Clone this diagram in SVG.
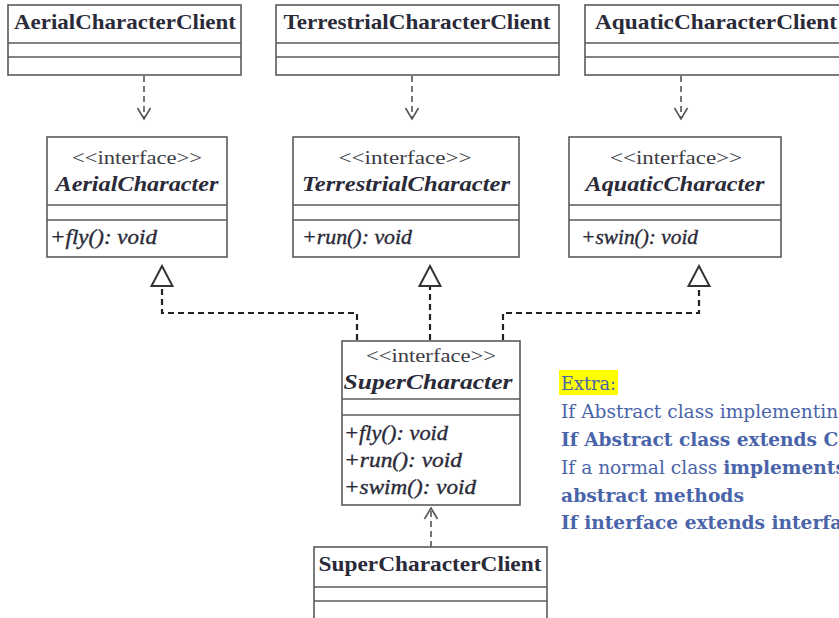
<svg xmlns="http://www.w3.org/2000/svg" width="839" height="618" viewBox="0 0 839 618">
<style>
.box{fill:#fff;stroke:#5a5a5a;stroke-width:1.6}
.div{stroke:#5a5a5a;stroke-width:1.6}
.t{font-family:"Liberation Serif",serif;fill:#2a2a38}
.cn{font-size:21px;font-weight:bold;text-anchor:middle}
.st{font-size:19px;text-anchor:middle;fill:#3c3c44}
.in{font-size:21px;font-weight:bold;font-style:italic;text-anchor:middle}
.m{font-size:20px;font-style:italic;stroke:#2a2a38;stroke-width:0.35}
.dep{fill:none;stroke:#555;stroke-width:1.6;stroke-dasharray:6,4}
.real{fill:none;stroke:#222;stroke-width:2.2;stroke-dasharray:6,4}
.x{font-family:"DejaVu Serif",serif;font-size:18.6px;fill:#4a64aa}
.b{font-weight:bold}
</style>
<defs>
<marker id="open" markerUnits="userSpaceOnUse" viewBox="-12 -8 14 16" markerWidth="14" markerHeight="16" refX="0" refY="0" orient="auto">
<path d="M-11,-6.5 L0,0 L-11,6.5" fill="none" stroke="#555" stroke-width="1.6"/>
</marker>
<marker id="tri" markerUnits="userSpaceOnUse" viewBox="-1 -12 23 24" markerWidth="23" markerHeight="24" refX="0" refY="0" orient="auto">
<path d="M0,-10.5 L20,0 L0,10.5 Z" fill="#fff" stroke="#333" stroke-width="2"/>
</marker>
</defs>
<rect width="839" height="618" fill="#fff"/>

<g id="AerialCharacterClient">
<rect class="box" x="8" y="5" width="233" height="70"/>
<line class="div" x1="8" y1="43" x2="241" y2="43"/>
<line class="div" x1="8" y1="57" x2="241" y2="57"/>
<text class="t cn" x="125" y="29" textLength="222" lengthAdjust="spacingAndGlyphs">AerialCharacterClient</text>
</g>
<g id="TerrestrialCharacterClient">
<rect class="box" x="276" y="5" width="283" height="70"/>
<line class="div" x1="276" y1="43" x2="559" y2="43"/>
<line class="div" x1="276" y1="57" x2="559" y2="57"/>
<text class="t cn" x="417" y="29" textLength="267" lengthAdjust="spacingAndGlyphs">TerrestrialCharacterClient</text>
</g>
<g id="AquaticCharacterClient">
<rect class="box" x="585" y="5" width="270" height="70"/>
<line class="div" x1="585" y1="43" x2="855" y2="43"/>
<line class="div" x1="585" y1="57" x2="855" y2="57"/>
<text class="t cn" x="716" y="29" textLength="242" lengthAdjust="spacingAndGlyphs">AquaticCharacterClient</text>
</g>

<g id="AerialCharacter">
<rect class="box" x="47" y="137" width="180" height="120"/>
<line class="div" x1="47" y1="205" x2="227" y2="205"/>
<line class="div" x1="47" y1="220" x2="227" y2="220"/>
<text class="t st" x="137" y="164" textLength="130" lengthAdjust="spacingAndGlyphs">&lt;&lt;interface&gt;&gt;</text>
<text class="t in" x="137" y="191" textLength="163" lengthAdjust="spacingAndGlyphs">AerialCharacter</text>
<text class="t m" x="50" y="244" textLength="107" lengthAdjust="spacingAndGlyphs">+fly(): void</text>
</g>
<g id="TerrestrialCharacter">
<rect class="box" x="293" y="137" width="226" height="120"/>
<line class="div" x1="293" y1="205" x2="519" y2="205"/>
<line class="div" x1="293" y1="220" x2="519" y2="220"/>
<text class="t st" x="405" y="164" textLength="133" lengthAdjust="spacingAndGlyphs">&lt;&lt;interface&gt;&gt;</text>
<text class="t in" x="406" y="191" textLength="208" lengthAdjust="spacingAndGlyphs">TerrestrialCharacter</text>
<text class="t m" x="302" y="244" textLength="110" lengthAdjust="spacingAndGlyphs">+run(): void</text>
</g>
<g id="AquaticCharacter">
<rect class="box" x="569" y="137" width="212" height="120"/>
<line class="div" x1="569" y1="205" x2="781" y2="205"/>
<line class="div" x1="569" y1="220" x2="781" y2="220"/>
<text class="t st" x="676" y="164" textLength="132" lengthAdjust="spacingAndGlyphs">&lt;&lt;interface&gt;&gt;</text>
<text class="t in" x="675" y="191" textLength="179" lengthAdjust="spacingAndGlyphs">AquaticCharacter</text>
<text class="t m" x="581" y="244" textLength="117" lengthAdjust="spacingAndGlyphs">+swin(): void</text>
</g>

<g id="SuperCharacter">
<rect class="box" x="342" y="341" width="178" height="164"/>
<line class="div" x1="342" y1="399" x2="520" y2="399"/>
<line class="div" x1="342" y1="415" x2="520" y2="415"/>
<text class="t st" x="431" y="362" textLength="130" lengthAdjust="spacingAndGlyphs">&lt;&lt;interface&gt;&gt;</text>
<text class="t in" x="428" y="389" textLength="169" lengthAdjust="spacingAndGlyphs">SuperCharacter</text>
<text class="t m" x="344" y="440" textLength="104" lengthAdjust="spacingAndGlyphs">+fly(): void</text>
<text class="t m" x="344" y="467" textLength="118" lengthAdjust="spacingAndGlyphs">+run(): void</text>
<text class="t m" x="344" y="494" textLength="132" lengthAdjust="spacingAndGlyphs">+swim(): void</text>
</g>

<g id="SuperCharacterClient">
<rect class="box" x="314" y="547" width="233" height="80"/>
<line class="div" x1="314" y1="587" x2="547" y2="587"/>
<line class="div" x1="314" y1="601" x2="547" y2="601"/>
<text class="t cn" x="430" y="571" textLength="223" lengthAdjust="spacingAndGlyphs">SuperCharacterClient</text>
</g>

<g id="connectors">
<path class="dep" d="M144,76 V119" marker-end="url(#open)"/>
<path class="dep" d="M412,76 V119" marker-end="url(#open)"/>
<path class="dep" d="M681,76 V119" marker-end="url(#open)"/>
<path class="dep" d="M431,547 V508" marker-end="url(#open)"/>
<path class="real" d="M357,340 V313 H162 V286" marker-end="url(#tri)"/>
<path class="real" d="M430,340 V286" marker-end="url(#tri)"/>
<path class="real" d="M503,340 V313 H699 V286" marker-end="url(#tri)"/>
</g>

<g id="extra">
<rect x="559" y="370" width="59" height="25" fill="#ffff00"/>
<text class="x" x="561" y="390" textLength="55" lengthAdjust="spacingAndGlyphs">Extra:</text>
<text class="x" x="561" y="418">If Abstract class implementing</text>
<text class="x b" x="561" y="446">If Abstract class extends Co</text>
<text class="x" x="561" y="474">If a normal class <tspan class="b">implements</tspan></text>
<text class="x b" x="561" y="502" textLength="183" lengthAdjust="spacingAndGlyphs">abstract methods</text>
<text class="x b" x="561" y="529">If interface extends interfa</text>
</g>
</svg>
